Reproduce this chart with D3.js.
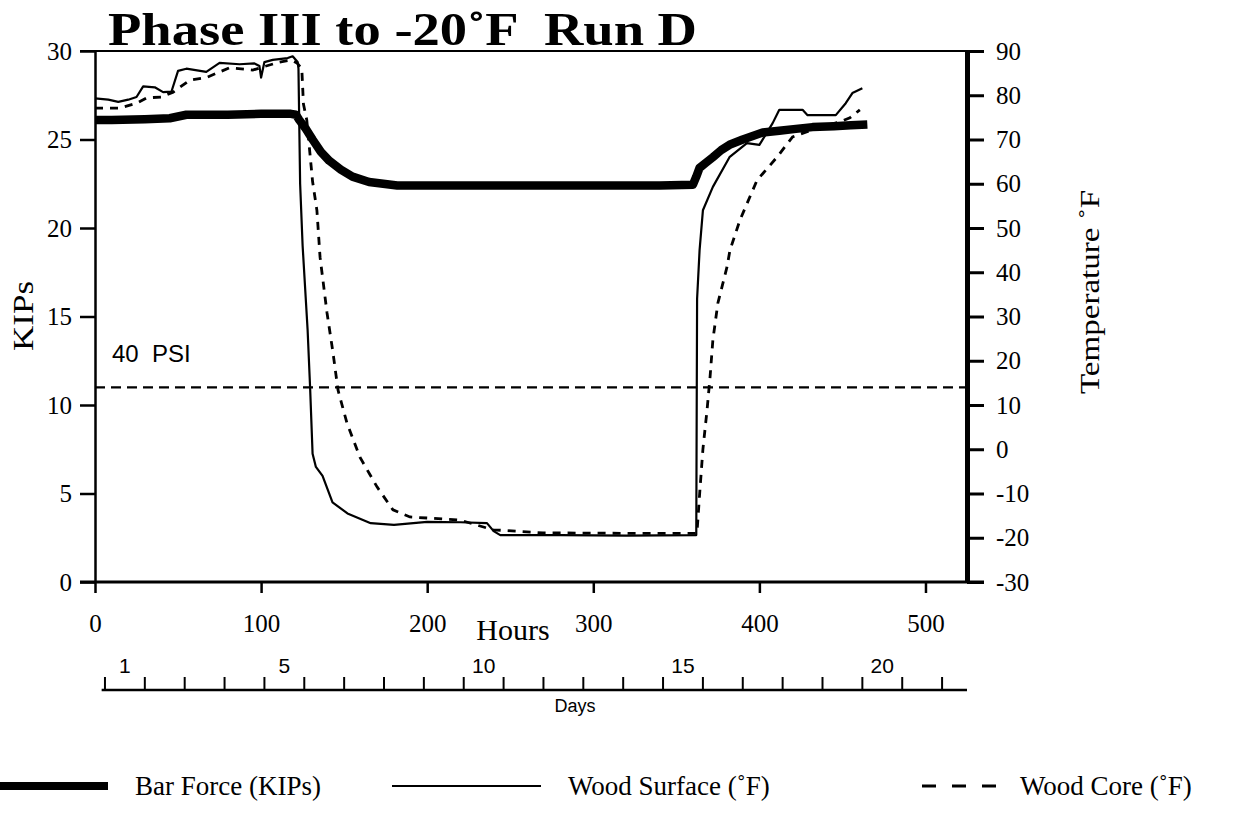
<!DOCTYPE html>
<html>
<head>
<meta charset="utf-8">
<script src="https://cdn.jsdelivr.net/npm/d3@7"></script>
<style>
  body { margin: 0; background: #fff; }
  svg { display: block; }
  text { white-space: pre; }
</style>
</head>
<body>
<svg id="chart" width="1244" height="813"></svg>
<script>
// ---- data ----
// bar force, KIPs (left axis)
var forceHours = [0, 10, 30, 45, 55, 80, 100, 118, 121, 123, 127, 131, 136, 141, 148, 155, 165, 182, 200, 250, 300, 340, 360, 362, 364, 368, 372, 377, 382, 390, 402, 412, 422, 432, 445, 455, 465];
var forceKips  = [26.1, 26.1, 26.15, 26.2, 26.4, 26.4, 26.45, 26.45, 26.4, 26.1, 25.6, 25.0, 24.3, 23.8, 23.3, 22.9, 22.6, 22.4, 22.4, 22.4, 22.4, 22.4, 22.45, 22.9, 23.4, 23.7, 24.0, 24.4, 24.7, 25.0, 25.4, 25.5, 25.6, 25.7, 25.75, 25.8, 25.85];

// wood surface, deg F (right axis)
var surfaceHours = [0, 8, 14, 20, 25, 29, 36, 41, 46, 50, 55, 67, 75, 87, 96, 99, 100, 102, 107, 116, 119, 122, 122.5, 123.5, 125, 128, 129.5, 131, 133, 137, 143, 152, 166, 180, 200, 220, 236, 240, 244, 280, 320, 362, 362.5, 364, 366, 372, 382, 392.5, 400, 408, 412, 426, 429, 446, 452, 456, 462];
var surfaceTemp  = [79.3, 79.0, 78.5, 79.0, 79.6, 82.0, 81.8, 80.7, 80.8, 85.5, 86.0, 85.3, 87.3, 87.0, 87.2, 86.6, 84.0, 87.5, 88.0, 88.4, 88.8, 87.5, 86, 60, 46, 27, 14, -1, -4, -6, -12, -14.5, -16.7, -17.1, -16.4, -16.5, -16.7, -18.5, -19.4, -19.4, -19.5, -19.4, 34, 45, 54, 59.3, 66, 69.2, 68.8, 73.7, 76.7, 76.7, 75.5, 75.5, 78.2, 80.5, 81.6];

// wood core, deg F (right axis)
var coreHours = [0, 15, 25, 31, 40, 47, 57, 67, 81, 95, 111, 118, 121.6, 124.5, 125.5, 127.5, 131, 133.6, 135.5, 139.7, 143.3, 146.3, 151.7, 159.5, 169.8, 179.4, 189.6, 219.7, 239.6, 269.7, 320, 362.4, 364.2, 366, 368.5, 370.3, 372, 375, 380.5, 382.3, 388.3, 398.6, 410.6, 420, 436.5, 448.5, 454.5, 460.5];
var coreTemp  = [77.1, 77.1, 78.2, 79.4, 79.6, 80.7, 83.4, 84.0, 86.2, 85.7, 87.5, 88.0, 87.3, 86, 78, 74.4, 60.5, 54, 43.4, 30.8, 21.8, 13.4, 5.9, -1.8, -8.5, -13.7, -15.3, -16.0, -18.2, -18.9, -19.0, -19.0, -9.2, 0, 8.9, 16.3, 24.7, 33, 41.2, 45, 51.8, 60.8, 66, 70.6, 72.8, 74, 74.9, 76.7];

var psiLineKips = 11;
var psiLabel = "40  PSI";

// axis ticks
var hourTicks = [0, 100, 200, 300, 400, 500];
var kipTicks = [0, 5, 10, 15, 20, 25, 30];
var tempTicks = [-30, -20, -10, 0, 10, 20, 30, 40, 50, 60, 70, 80, 90];
var dayLabels = [1, 5, 10, 15, 20];
var dayTickCount = 22;
var dayStartHour = 6;
var hoursPerDay = 24;

var titleText = "Phase III to -20˚F  Run D";
var legendNames = ["Bar Force (KIPs)", "Wood Surface (˚F)", "Wood Core (˚F)"];

// ---- layout ----
var serif = "'Liberation Serif', 'Times New Roman', serif";
var sans = "'Liberation Sans', Arial, sans-serif";
var plotLeft = 95, plotRight = 967, plotTop = 51, plotBottom = 582;

var svg = d3.select("#chart");

var x = d3.scaleLinear().domain([0, 525]).range([plotLeft, plotRight]);
var yK = d3.scaleLinear().domain([0, 30]).range([plotBottom, plotTop]);
var yT = d3.scaleLinear().domain([-30, 90]).range([plotBottom, plotTop]);

// title (the scan's lettering is wide, so fit it to its width)
svg.append("text")
  .attr("x", 108).attr("y", 45)
  .attr("font-family", serif)
  .attr("font-weight", "bold")
  .attr("font-size", 47)
  .attr("textLength", 589)
  .attr("lengthAdjust", "spacingAndGlyphs")
  .text(titleText);

// top frame line (runs out to the tick ends)
svg.append("line")
  .attr("x1", plotLeft - 15).attr("x2", plotRight + 17)
  .attr("y1", plotTop).attr("y2", plotTop)
  .attr("stroke", "black").attr("stroke-width", 2);

// left axis (KIPs)
svg.append("g")
  .attr("transform", `translate(${plotLeft},0)`)
  .call(d3.axisLeft(yK).tickValues(kipTicks).tickSize(15).tickSizeOuter(0).tickPadding(8))
  .call(g => g.select(".domain").attr("stroke-width", 2.5))
  .call(g => g.selectAll(".tick line").attr("stroke-width", 2.5))
  .call(g => g.selectAll(".tick text")
    .attr("font-family", serif).attr("font-size", 25).attr("fill", "black"));

// right axis (temperature), plain hyphen for negatives like the original
svg.append("g")
  .attr("transform", `translate(${plotRight},0)`)
  .call(d3.axisRight(yT).tickValues(tempTicks).tickFormat(d => String(d))
    .tickSize(17).tickSizeOuter(0).tickPadding(12))
  .call(g => g.select(".domain").attr("stroke-width", 5))
  .call(g => g.selectAll(".tick line").attr("stroke-width", 3))
  .call(g => g.selectAll(".tick text")
    .attr("font-family", serif).attr("font-size", 25).attr("fill", "black"));

// bottom axis (hours)
svg.append("g")
  .attr("transform", `translate(0,${plotBottom})`)
  .call(d3.axisBottom(x).tickValues(hourTicks).tickSize(11).tickSizeOuter(0).tickPadding(21))
  .call(g => g.select(".domain").remove())
  .call(g => g.selectAll(".tick line").attr("stroke-width", 2.5))
  .call(g => g.selectAll(".tick text")
    .attr("font-family", serif).attr("font-size", 25).attr("fill", "black"));

svg.append("line")
  .attr("x1", plotLeft - 15).attr("x2", plotRight + 17)
  .attr("y1", plotBottom).attr("y2", plotBottom)
  .attr("stroke", "black").attr("stroke-width", 3);

// axis titles
svg.append("text")
  .attr("transform", "translate(33,316) rotate(-90)")
  .attr("text-anchor", "middle")
  .attr("font-family", serif).attr("font-size", 30)
  .attr("textLength", 70).attr("lengthAdjust", "spacingAndGlyphs")
  .text("KIPs");

svg.append("text")
  .attr("transform", "translate(1099,292) rotate(-90)")
  .attr("text-anchor", "middle")
  .attr("font-family", serif).attr("font-size", 28)
  .attr("textLength", 204).attr("lengthAdjust", "spacingAndGlyphs")
  .text("Temperature ˚F");

svg.append("text")
  .attr("x", 513).attr("y", 640)
  .attr("text-anchor", "middle")
  .attr("font-family", serif).attr("font-size", 30)
  .text("Hours");

// days axis under the hours axis
var dayY = 690;
var dayTicks = d3.range(dayTickCount).map(i => dayStartHour + i * hoursPerDay);
var days = svg.append("g").attr("class", "days");
days.append("line")
  .attr("x1", x(4)).attr("x2", x(525))
  .attr("y1", dayY).attr("y2", dayY)
  .attr("stroke", "black").attr("stroke-width", 2.5);
days.selectAll("line.tick")
  .data(dayTicks)
  .enter().append("line")
  .attr("class", "tick")
  .attr("x1", d => x(d)).attr("x2", d => x(d))
  .attr("y1", dayY).attr("y2", dayY - 13)
  .attr("stroke", "black").attr("stroke-width", 2);
days.selectAll("text")
  .data(dayLabels)
  .enter().append("text")
  .attr("x", d => x(dayStartHour + (d - 0.5) * hoursPerDay))
  .attr("y", dayY - 17)
  .attr("text-anchor", "middle")
  .attr("font-family", sans).attr("font-size", 21)
  .text(d => d);
svg.append("text")
  .attr("x", 575).attr("y", 712)
  .attr("text-anchor", "middle")
  .attr("font-family", sans).attr("font-size", 18)
  .text("Days");

// 40 PSI reference line
svg.append("line")
  .attr("x1", plotLeft).attr("x2", plotRight)
  .attr("y1", yK(psiLineKips)).attr("y2", yK(psiLineKips))
  .attr("stroke", "black").attr("stroke-width", 2.2)
  .attr("stroke-dasharray", "10,6");
svg.append("text")
  .attr("x", 112).attr("y", 362)
  .attr("font-family", sans).attr("font-size", 24)
  .text(psiLabel);

// ---- series ----
var tempLine = d3.line().x(d => x(d[0])).y(d => yT(d[1])).curve(d3.curveLinear);
var kipLine = d3.line().x(d => x(d[0])).y(d => yK(d[1])).curve(d3.curveLinear);

svg.append("path")
  .datum(d3.zip(coreHours, coreTemp))
  .attr("d", tempLine)
  .attr("fill", "none").attr("stroke", "black")
  .attr("stroke-width", 2.8).attr("stroke-dasharray", "8,7");

svg.append("path")
  .datum(d3.zip(surfaceHours, surfaceTemp))
  .attr("d", tempLine)
  .attr("fill", "none").attr("stroke", "black")
  .attr("stroke-width", 2.2).attr("stroke-linejoin", "round");

svg.append("path")
  .datum(d3.zip(forceHours, forceKips))
  .attr("d", kipLine)
  .attr("fill", "none").attr("stroke", "black")
  .attr("stroke-width", 8.5).attr("stroke-linejoin", "round");

// ---- legend ----
var legendY = 786;
var legendItems = [
  { name: legendNames[0], x1: 0, x2: 108, width: 8, dash: null, tx: 135 },
  { name: legendNames[1], x1: 392, x2: 541, width: 2, dash: null, tx: 568 },
  { name: legendNames[2], x1: 922, x2: 996, width: 2.8, dash: "14,16", tx: 1020 }
];
var legend = svg.append("g").attr("class", "legend");
legendItems.forEach(function(item) {
  legend.append("line")
    .attr("x1", item.x1).attr("x2", item.x2)
    .attr("y1", legendY).attr("y2", legendY)
    .attr("stroke", "black").attr("stroke-width", item.width)
    .attr("stroke-dasharray", item.dash);
  legend.append("text")
    .attr("x", item.tx).attr("y", legendY + 9)
    .attr("font-family", serif).attr("font-size", 27)
    .text(item.name);
});
</script>
</body>
</html>
